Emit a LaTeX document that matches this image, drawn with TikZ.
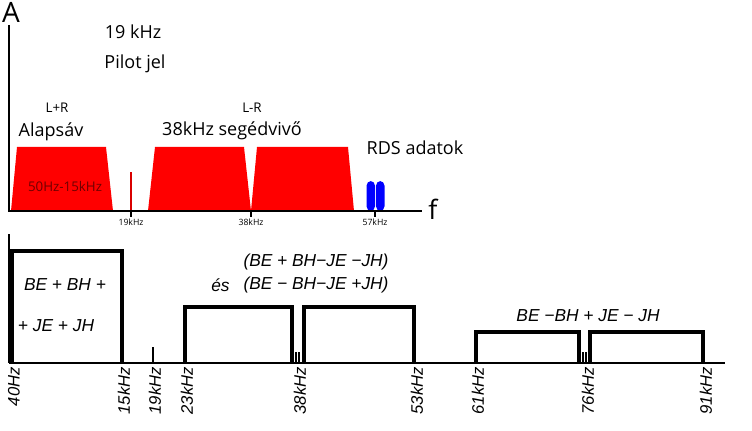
\documentclass[tikz,border=0pt]{standalone}
\usepackage{fontspec}
\setmainfont{Open Sans}
\newfontfamily\handfont{Liberation Sans}
\definecolor{fmred}{RGB}{255,0,0}
\definecolor{fmdarkred}{RGB}{110,0,0}
\definecolor{fmblue}{RGB}{0,0,255}
\usetikzlibrary{positioning}

\begin{document}
\begin{tikzpicture}[x=0.75pt, y=-0.75pt,
  band/.style={fill=fmred},
  biglabel/.style={font=\fontsize{13.5}{16}\selectfont, inner sep=0pt},
  smalllabel/.style={font=\fontsize{10}{12}\selectfont, inner sep=0pt},
  ticklabel/.style={font=\fontsize{6.5}{8}\selectfont, inner sep=0pt, anchor=north},
  chan/.style={line width=2.6pt, line join=miter},
  freqlabel/.style={font=\handfont\itshape\fontsize{12.5}{14}\selectfont, rotate=90, anchor=east, inner sep=0pt},
  formula/.style={font=\handfont\itshape\fontsize{13}{15}\selectfont, inner sep=0pt}]
  \useasboundingbox (0,0) rectangle (752,431);

  % Upper spectrum (colour)
  \fill[band] (11,211) -- (17,147) -- (106,147) -- (113,211) -- cycle;
  \fill[band] (148,211) -- (155,147) -- (244,147) -- (251,211) -- cycle;
  \fill[band] (251,211) -- (257,147) -- (348,147) -- (354,211) -- cycle;
  \draw[fmred!85!black, line width=1.6pt] (131,172) -- (131,211);
  \fill[fmblue, rounded corners=3.5pt] (366.5,211) -- (366.5,181) -- (375,181) -- (375,211) -- cycle;
  \fill[fmblue, rounded corners=3.5pt] (376,211) -- (376,181) -- (384.5,181) -- (384.5,211) -- cycle;

  % Axes
  \coordinate (origin) at (9,211);
  \coordinate (yend) at (9,25);
  \coordinate (xend) at (422,211);
  \draw[line width=2pt] (yend) -- (origin) -- (xend);
  \node[font=\fontsize{21}{24}\selectfont, inner sep=0pt] (amp) at (11,12) {A};
  \node[font=\fontsize{20}{24}\selectfont, inner sep=0pt] (freq) at (433,209) {f};

  % Ticks
  \foreach \x/\name/\txt in {131/t19/19kHz, 251/t38/38kHz, 375/t57/57kHz}{
    \coordinate (\name) at (\x,211);
    \draw[line width=1.6pt] (\name) -- ++(0,6);
    \node[ticklabel] (\name lab) at (\x,219) {\txt};
  }

  % Labels
  \node[biglabel] (khz) at (133,32) {19 kHz};
  \node[biglabel] (pilot) at (135,64) {Pilot jel};
  \node[smalllabel] (lpr) at (57,108) {L+R};
  \node[smalllabel] (lmr) at (252,108) {L-R};
  \node[biglabel] (base) at (51,132) {Alapsáv};
  \node[biglabel] (sub) at (232,131) {38kHz segédvivő};
  \node[biglabel] (rds) at (415,148) {RDS adatok};
  \node[smalllabel, text=fmdarkred] (range) at (65,186) {50Hz-15kHz};

  % Lower spectrum (drawing)
  \draw[line width=1.3pt] (9,234) -- (9,362.5);
  \draw[line width=1.5pt] (9,362.5) -- (725,362.5);
  \draw[chan] (12,362.5) -- (12,251) -- (122,251) -- (122,362.5);
  \draw[chan] (185,362.5) -- (185,307) -- (292,307) -- (292,362.5);
  \draw[chan] (304,362.5) -- (304,307) -- (414,307) -- (414,362.5);
  \draw[chan] (476,362.5) -- (476,332) -- (579,332) -- (579,362.5);
  \draw[chan] (590,362.5) -- (590,332) -- (703,332) -- (703,362.5);
  \draw[line width=1.3pt] (153,347) -- (153,362.5);
  \foreach \x in {296,299,583,586}
    \draw[line width=1pt] (\x,352) -- (\x,362.5);

  \foreach \x/\txt in {14/40Hz, 124/15kHz, 155/19kHz, 187/23kHz, 300/38kHz,
                       417/53kHz, 478/61kHz, 588/76kHz, 706/91kHz}
    \node[freqlabel] (f\txt) at (\x,367) {\txt};

  \node[formula] (sum1) at (65,285) {BE + BH +};
  \node[formula] (sum2) at (56,326) {+ JE + JH};
  \node[formula] (diff1) at (316,262) {(BE + BH−JE −JH)};
  \node[formula] (diff2) at (316,285) {(BE − BH−JE +JH)};
  \node[formula, left=10pt of diff2] (es) {és};
  \node[formula] (diff3) at (588,316) {BE −BH + JE − JH};
\end{tikzpicture}
\end{document}
